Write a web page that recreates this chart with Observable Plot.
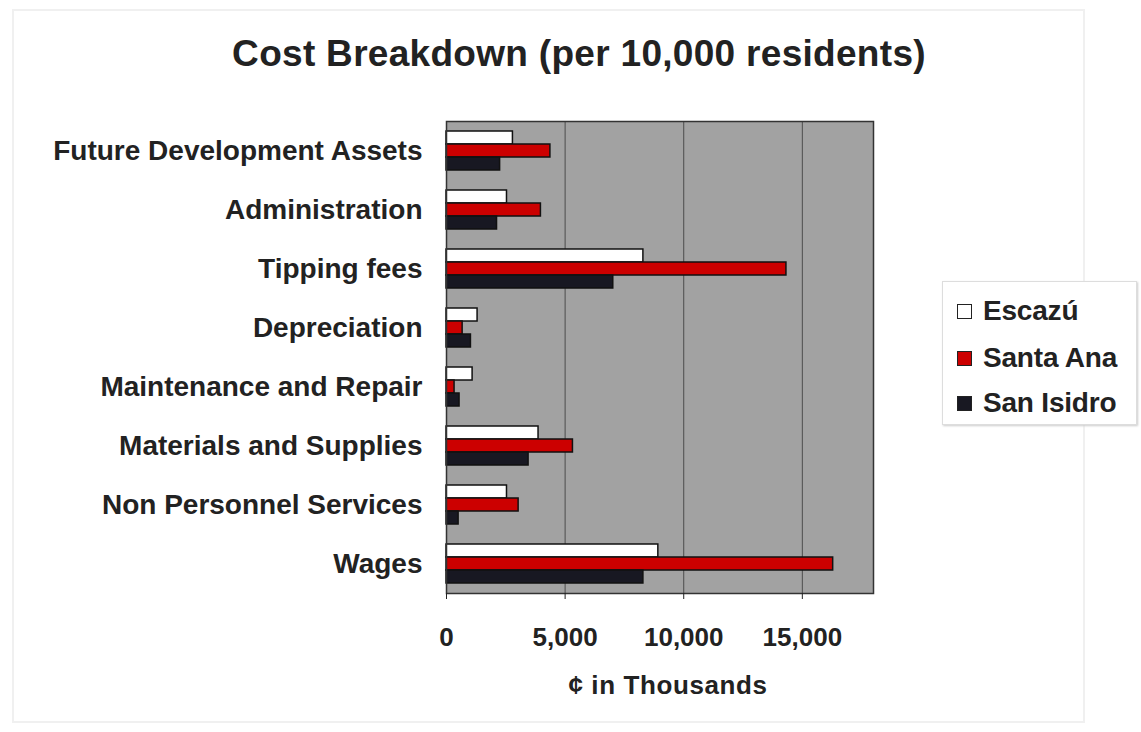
<!DOCTYPE html>
<html>
<head>
<meta charset="utf-8">
<script src="https://cdn.jsdelivr.net/npm/d3@7"></script>
<script src="https://cdn.jsdelivr.net/npm/@observablehq/plot@0.6"></script>
<style>
  html, body { margin: 0; padding: 0; background: #fff; }
  #wrap { position: relative; width: 1141px; height: 732px; overflow: hidden; font-family: "Liberation Sans", Arial, sans-serif; color: #222; }
  #border { position: absolute; left: 12px; top: 9px; width: 1073px; height: 714px; border: 2px solid #f0f0f0; box-sizing: border-box; }
  #title { position: absolute; left: 0; width: 1158px; top: 33px; text-align: center; font-weight: bold; font-size: 37px; letter-spacing: 0.3px; }
  #chart { position: absolute; left: 0; top: 0; }
  #legend { position: absolute; left: 942px; top: 281px; width: 195px; height: 144px; background: #fff; border: 1px solid #ddd; box-shadow: 1px 1px 2px #ccc; box-sizing: border-box; }
  .item { position: absolute; left: 14px; font-weight: bold; font-size: 28px; letter-spacing: -0.2px; white-space: nowrap; }
  .sw { display: inline-block; width: 15px; height: 15px; border: 1.5px solid #222; box-sizing: border-box; margin-right: 11px; vertical-align: 1px; }
</style>
</head>
<body>
<div id="wrap">
  <div id="border"></div>
  <div id="title">Cost Breakdown (per 10,000 residents)</div>
  <div id="chart"></div>
  <div id="legend"></div>
</div>
<script>
const categories = ["Future Development Assets", "Administration", "Tipping fees", "Depreciation", "Maintenance and Repair", "Materials and Supplies", "Non Personnel Services", "Wages"];
const series = ["Escazú", "Santa Ana", "San Isidro"];
const colors = ["#ffffff", "#cc0000", "#181822"];
const escazu    = [2800, 2550, 8300, 1310, 1100, 3880, 2550, 8930];
const santaAna  = [4380, 3980, 14330, 680, 340, 5330, 3040, 16300];
const sanIsidro = [2260, 2130, 7030, 1030, 550, 3460, 510, 8300];
const xTicks = [0, 5000, 10000, 15000];
const xLabel = "¢ in Thousands";

const valuesBySeries = [escazu, santaAna, sanIsidro];
const data = series.map((s, i) => categories.map((c, j) => ({category: c, series: s, value: valuesBySeries[i][j]})));

const bandInsets = [[10, 36], [23, 23], [36, 10]];

const chart = Plot.plot({
  width: 1141,
  height: 732,
  marginLeft: 446,
  marginRight: 268,
  marginTop: 121,
  marginBottom: 139,
  style: {fontFamily: "'Liberation Sans', Arial, sans-serif", color: "#222", background: "transparent"},
  x: {domain: [0, 18000]},
  y: {domain: categories, padding: 0},
  marks: [
    Plot.frame({fill: "#a2a2a2", stroke: "none"}),
    Plot.gridX(xTicks.filter(d => d > 0), {stroke: "#444", strokeOpacity: 0.9, strokeWidth: 1}),
    ...data.map((d, i) => Plot.barX(d, {
      y: "category", x: "value",
      fill: colors[i], stroke: "#111", strokeWidth: 1.5,
      insetTop: bandInsets[i][0], insetBottom: bandInsets[i][1]
    })),
    Plot.frame({stroke: "#333", strokeWidth: 1.5}),
    Plot.axisX(xTicks, {
      tickSize: 6, tickPadding: 28, fontSize: 26, fontWeight: "bold",
      tickFormat: d => d3.format(",")(d),
      style: {letterSpacing: "0.8px"},
      label: xLabel, labelAnchor: "center", labelOffset: 100, labelArrow: "none"
    }),
    Plot.axisY({tickSize: 0, tickPadding: 24, fontSize: 28, fontWeight: "bold", label: null, style: {letterSpacing: "0.4px"}})
  ]
});
document.getElementById("chart").appendChild(chart);

chart.querySelectorAll("g[aria-label='x-axis label'] text").forEach(t => {
  t.setAttribute("font-size", 26);
  t.setAttribute("font-weight", "bold");
  t.setAttribute("letter-spacing", "0.6");
  t.setAttribute("dx", "8");
});

const legend = document.getElementById("legend");
const tops = [13, 60, 105];
series.forEach((s, i) => {
  const div = document.createElement("div");
  div.className = "item";
  div.style.top = tops[i] + "px";
  const sw = document.createElement("span");
  sw.className = "sw";
  sw.style.background = colors[i];
  if (i === 0) sw.style.borderWidth = "1px";
  div.appendChild(sw);
  div.appendChild(document.createTextNode(s));
  legend.appendChild(div);
});
</script>
</body>
</html>
